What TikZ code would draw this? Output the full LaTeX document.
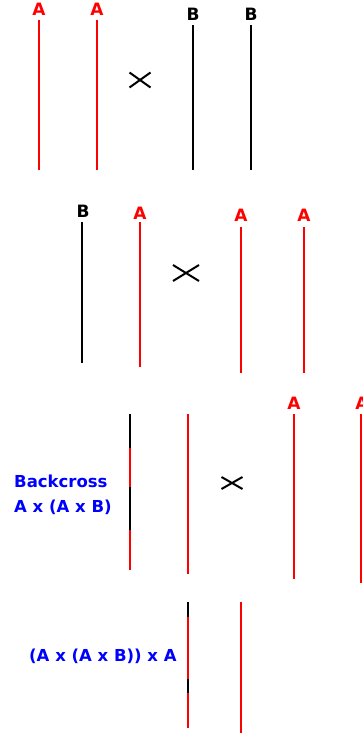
\documentclass[tikz,border=0pt]{standalone}
\usepackage{fontspec}
\setmainfont{DejaVu Sans}

\begin{document}
\begin{tikzpicture}[x=1pt, y=-1pt]
		% Colours of the two parent lines
		\definecolor{parentA}{RGB}{255, 0, 0}   % red chromosomes
		\definecolor{parentB}{RGB}{0, 0, 0}     % black chromosomes
		\definecolor{crosstext}{RGB}{0, 0, 255} % blue captions
		\tikzset{
			allele/.style={font=\bfseries\fontsize{17}{20}\selectfont, inner sep=0pt, anchor=base},
			caption/.style={font=\bfseries\fontsize{16.5}{19}\selectfont, text=crosstext, inner sep=0pt, anchor=base west},
			chrom/.style={line width=2.2pt},
			crossmark/.style={line width=2pt}
		}
		\useasboundingbox (0,0) rectangle (363,736);
		
		% --- Parents: A A x B B ---
		\node[allele, text=parentA] (a1) at (39, 15) {A};
		\node[allele, text=parentA] (a2) at (97, 15) {A};
		\node[allele] (b1) at (193, 20) {B};
		\node[allele] (b2) at (251, 20) {B};
		\draw[chrom, parentA] (39, 20) -- (39, 170);
		\draw[chrom, parentA] (97, 20) -- (97, 170);
		\draw[chrom, parentB] (193, 25) -- (193, 170);
		\draw[chrom, parentB] (251, 25) -- (251, 170);
		
		% --- F1: B A x A A ---
		\node[allele] (b3) at (83, 217) {B};
		\node[allele, text=parentA] (a3) at (140, 219) {A};
		\node[allele, text=parentA] (a4) at (241, 221) {A};
		\node[allele, text=parentA] (a5) at (304, 221) {A};
		\draw[chrom, parentB] (82, 222) -- (82, 363);
		\draw[chrom, parentA] (140, 222) -- (140, 367);
		\draw[chrom, parentA] (241, 227) -- (241, 373);
		\draw[chrom, parentA] (304, 227) -- (304, 373);
		
		% --- Backcross ---
		\node[caption] (bc1) at (14, 487) {Backcross};
		\node[caption] (bc2) at (14, 512) {A x (A x B)};
		% recombined chromosome: red with black pieces
		\draw[chrom, parentA] (130, 414) -- (130, 570);
		\draw[chrom, parentB] (130, 414) -- (130, 448);
		\draw[chrom, parentB] (130, 487) -- (130, 530);
		\draw[chrom, parentA] (188, 414) -- (188, 574);
		\node[allele, text=parentA] (a6) at (294, 409) {A};
		\node[allele, text=parentA] (a7) at (362, 409) {A};
		\draw[chrom, parentA] (294, 414) -- (294, 579);
		\draw[chrom, parentA] (361, 414) -- (361, 583);
		
		% --- Second backcross ---
		\node[caption] (bc3) at (29, 661) {(A x (A x B)) x A};
		\draw[chrom, parentA] (188, 602) -- (188, 728);
		\draw[chrom, parentB] (188, 602) -- (188, 617);
		\draw[chrom, parentB] (188, 679) -- (188, 693);
		\draw[chrom, parentA] (241, 602) -- (241, 733);
		
		% --- Cross signs ---
		\foreach \cx/\cy/\w/\h in {140/80/10.5/7.5, 186/273/13/8, 232/483/10.5/6}
			\draw[crossmark] (\cx-\w, \cy-\h) -- (\cx+\w, \cy+\h)
			                 (\cx-\w, \cy+\h) -- (\cx+\w, \cy-\h);
		
	\end{tikzpicture}
\end{document}
